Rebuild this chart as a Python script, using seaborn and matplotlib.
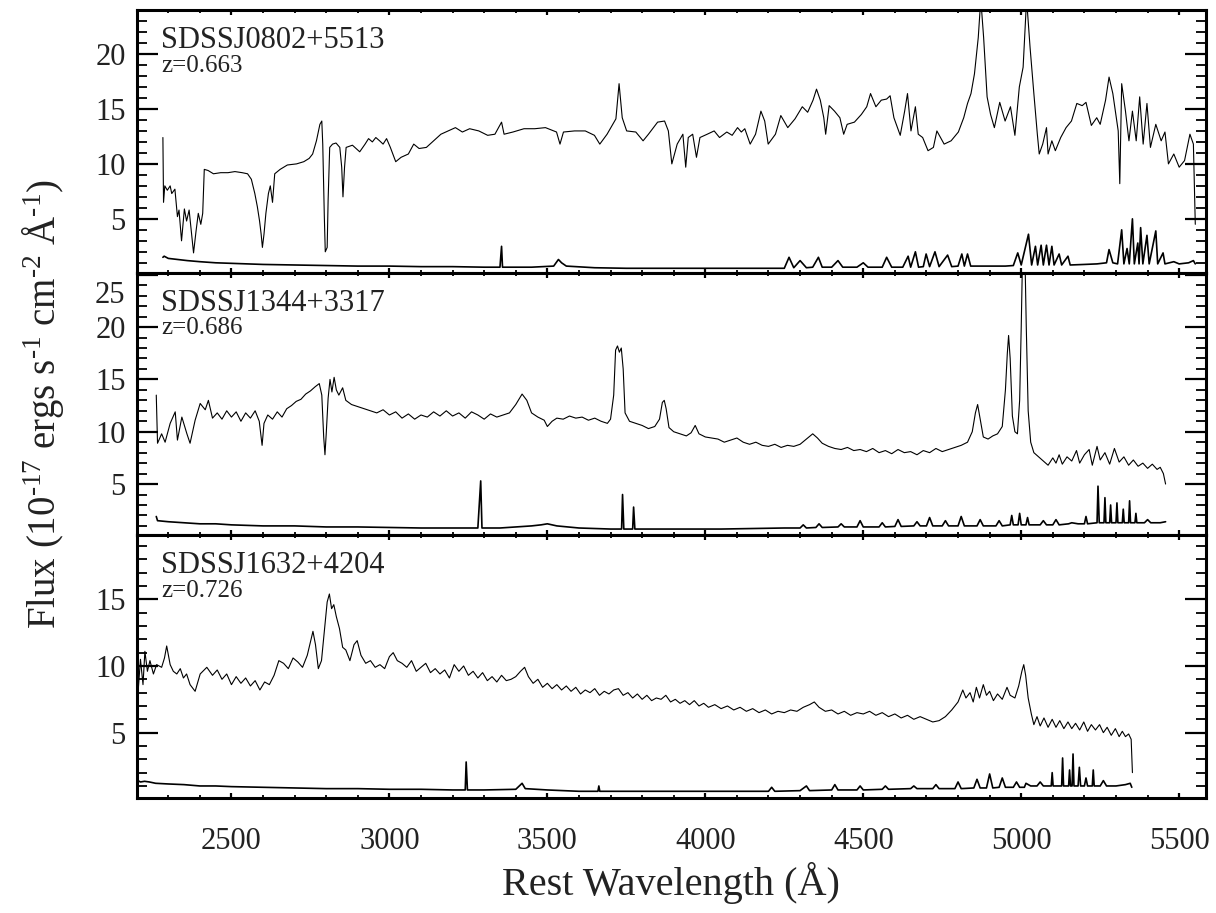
import numpy as np
import matplotlib
matplotlib.use("Agg")
import matplotlib.pyplot as plt
from matplotlib.ticker import MultipleLocator
from matplotlib.transforms import ScaledTranslation
import seaborn as sns

# ---- SDSSJ0802+5513 (z=0.663)
wave_0802 = [2283, 2285, 2289, 2297, 2306, 2311, 2321, 2329, 2334, 2342, 2351, 2358, 2366, 2374, 2380,
             2388, 2395, 2403, 2409, 2414, 2426, 2443, 2466, 2489, 2511, 2534, 2551, 2563, 2574, 2582,
             2589, 2594, 2598, 2603, 2609, 2617, 2623, 2630, 2637, 2654, 2677, 2706, 2729, 2746, 2757,
             2769, 2780, 2786, 2789, 2794, 2797, 2803, 2806, 2811, 2820, 2831, 2843, 2849, 2853, 2858,
             2863, 2883, 2906, 2923, 2934, 2946, 2957, 2969, 2980, 2991, 3003, 3020, 3037, 3060, 3077,
             3094, 3117, 3140, 3163, 3186, 3209, 3231, 3254, 3283, 3311, 3334, 3355, 3363, 3391, 3426,
             3460, 3494, 3529, 3540, 3551, 3586, 3620, 3649, 3666, 3689, 3717, 3727, 3737, 3751, 3780,
             3803, 3820, 3849, 3871, 3883, 3894, 3911, 3929, 3938, 3946, 3960, 3972, 3983, 4006, 4028,
             4045, 4068, 4085, 4102, 4114, 4125, 4142, 4159, 4176, 4188, 4199, 4222, 4239, 4261, 4284,
             4307, 4324, 4341, 4352, 4364, 4375, 4381, 4392, 4409, 4426, 4438, 4449, 4472, 4494, 4511,
             4523, 4540, 4557, 4574, 4585, 4597, 4617, 4631, 4640, 4651, 4665, 4674, 4688, 4705, 4722,
             4733, 4756, 4778, 4801, 4818, 4830, 4841, 4852, 4864, 4872, 4881, 4892, 4903, 4915, 4932,
             4949, 4966, 4980, 4994, 5006, 5017, 5028, 5040, 5051, 5057, 5068, 5080, 5085, 5097, 5108,
             5125, 5142, 5159, 5176, 5193, 5205, 5222, 5239, 5250, 5267, 5278, 5290, 5307, 5312, 5318,
             5330, 5341, 5352, 5364, 5375, 5386, 5398, 5409, 5426, 5443, 5455, 5466, 5483, 5500, 5517,
             5534, 5545, 5551]
flux_0802 = [12.4, 6.5, 8.0, 7.6, 8.0, 7.3, 7.7, 5.2, 5.8, 3.0, 5.9, 4.8, 5.8, 3.6, 1.9,
             3.9, 5.5, 4.5, 5.5, 9.5, 9.4, 9.1, 9.2, 9.2, 9.3, 9.2, 9.1, 8.6, 7.3, 6.1,
             4.8, 3.6, 2.4, 3.6, 5.5, 7.3, 8.0, 6.5, 9.1, 9.5, 9.9, 10.0, 10.2, 10.5, 10.9,
             12.1, 13.6, 13.9, 11.8, 5.2, 2.0, 2.4, 6.7, 11.5, 11.8, 11.9, 11.5, 9.7, 7.0, 9.7,
             11.5, 11.7, 11.1, 11.8, 12.3, 12.0, 12.4, 12.1, 11.8, 12.3, 11.5, 10.2, 10.6, 10.9, 11.8,
             11.4, 11.5, 12.1, 12.7, 13.0, 13.3, 12.9, 13.2, 13.0, 12.6, 12.7, 13.8, 12.7, 12.9, 13.2,
             13.2, 13.3, 12.9, 11.8, 12.9, 13.0, 13.0, 12.6, 11.8, 12.7, 14.1, 17.3, 14.2, 13.0, 12.9,
             12.1, 12.7, 13.8, 13.9, 13.0, 10.0, 11.8, 12.7, 9.7, 12.4, 12.7, 10.6, 12.4, 12.7, 13.0,
             12.4, 12.9, 12.6, 13.3, 12.9, 13.2, 11.8, 12.7, 14.8, 13.9, 11.8, 12.7, 14.4, 13.3, 14.1,
             15.2, 14.7, 15.8, 16.8, 15.8, 14.2, 12.7, 15.3, 14.8, 14.2, 12.7, 13.6, 13.8, 14.5, 15.2,
             16.4, 15.2, 15.8, 15.9, 16.2, 14.2, 12.6, 14.8, 16.4, 13.0, 15.2, 12.7, 12.4, 11.2, 11.5,
             13.0, 11.8, 12.1, 12.9, 14.2, 15.5, 16.4, 18.2, 21.5, 25.0, 21.5, 16.1, 14.5, 13.3, 15.6,
             13.9, 15.2, 12.6, 17.0, 18.8, 25.0, 20.6, 16.4, 12.7, 10.9, 11.8, 13.3, 10.9, 12.1, 11.2,
             12.4, 13.3, 13.9, 15.5, 15.3, 15.6, 13.5, 14.2, 13.6, 15.8, 17.9, 16.4, 13.0, 8.2, 17.3,
             14.8, 12.1, 14.8, 12.1, 16.1, 11.8, 15.5, 11.5, 13.6, 12.1, 12.9, 10.0, 10.9, 9.7, 10.3,
             12.7, 11.8, 4.5]
err_wave_0802 = [2283, 2287, 2300, 2330, 2360, 2400, 2450, 2500, 2600, 2700, 2800, 2900, 3000, 3100, 3200,
                 3300, 3350, 3355, 3358, 3450, 3520, 3535, 3545, 3560, 3650, 3750, 3850, 3950, 4050, 4150,
                 4250, 4265, 4280, 4300, 4320, 4340, 4358, 4370, 4400, 4420, 4435, 4480, 4500, 4515, 4560,
                 4574, 4590, 4625, 4642, 4650, 4665, 4675, 4690, 4699, 4710, 4727, 4740, 4767, 4780, 4800,
                 4812, 4820, 4830, 4840, 4900, 4950, 4975, 4989, 5000, 5023, 5033, 5045, 5052, 5063, 5070,
                 5080, 5088, 5097, 5104, 5120, 5128, 5148, 5155, 5200, 5240, 5270, 5278, 5290, 5305, 5318,
                 5325, 5335, 5342, 5352, 5358, 5369, 5373, 5378, 5385, 5398, 5405, 5426, 5432, 5449, 5455,
                 5483, 5500, 5530, 5545, 5551]
err_0802 = [1.5, 1.6, 1.4, 1.3, 1.2, 1.1, 1.0, 0.95, 0.85, 0.8, 0.75, 0.7, 0.7, 0.65, 0.65,
            0.6, 0.6, 2.5, 0.6, 0.6, 0.7, 1.3, 1.0, 0.7, 0.55, 0.5, 0.5, 0.5, 0.5, 0.5,
            0.5, 1.5, 0.55, 1.2, 0.55, 0.6, 1.5, 0.6, 0.6, 1.2, 0.6, 0.6, 1.0, 0.6, 0.6,
            1.5, 0.6, 0.6, 1.6, 0.6, 2.0, 0.6, 0.65, 1.8, 0.65, 2.0, 0.65, 1.7, 0.65, 0.7,
            1.8, 0.7, 1.8, 0.7, 0.7, 0.7, 0.75, 1.9, 0.8, 3.6, 0.8, 2.5, 0.8, 2.6, 0.8,
            2.6, 0.8, 2.5, 0.8, 1.8, 0.8, 1.6, 0.8, 0.85, 0.9, 1.0, 2.2, 1.0, 0.9, 4.0,
            0.9, 2.3, 0.9, 5.0, 0.9, 2.8, 0.9, 4.2, 0.9, 3.5, 0.9, 3.9, 0.9, 1.9, 0.9,
            1.1, 0.9, 1.0, 1.2, 0.9]

# ---- SDSSJ1344+3317 (z=0.686)
wave_1344 = [2262, 2266, 2279, 2290, 2306, 2322, 2329, 2343, 2359, 2369, 2385, 2401, 2417, 2427, 2440,
             2455, 2470, 2485, 2500, 2515, 2530, 2545, 2560, 2575, 2588, 2597, 2603, 2615, 2630, 2645,
             2660, 2675, 2690, 2705, 2720, 2735, 2750, 2765, 2778, 2786, 2792, 2796, 2800, 2806, 2812,
             2818, 2825, 2832, 2840, 2852, 2862, 2880, 2900, 2920, 2940, 2960, 2980, 3000, 3020, 3040,
             3060, 3080, 3100, 3120, 3140, 3160, 3180, 3200, 3220, 3240, 3260, 3280, 3300, 3320, 3340,
             3360, 3380, 3400, 3420, 3435, 3450, 3470, 3490, 3500, 3515, 3530, 3550, 3570, 3590, 3610,
             3630, 3650, 3670, 3690, 3700, 3710, 3716, 3722, 3728, 3734, 3740, 3746, 3760, 3780, 3800,
             3820, 3840, 3855, 3864, 3870, 3876, 3885, 3900, 3920, 3940, 3955, 3968, 3980, 4000, 4020,
             4040, 4060, 4080, 4100, 4120, 4140, 4160, 4180, 4200, 4220, 4240, 4260, 4280, 4300, 4320,
             4340, 4355, 4370, 4390, 4410, 4430, 4450, 4470, 4490, 4510, 4530, 4550, 4570, 4590, 4610,
             4630, 4650, 4670, 4690, 4710, 4730, 4750, 4770, 4790, 4810, 4830, 4845, 4855, 4862, 4870,
             4880, 4895, 4910, 4925, 4940, 4950, 4956, 4960, 4965, 4972, 4980, 4988, 4995, 5000, 5004,
             5012, 5016, 5022, 5030, 5040, 5055, 5070, 5085, 5100, 5110, 5120, 5130, 5145, 5160, 5175,
             5185, 5200, 5215, 5225, 5240, 5250, 5265, 5280, 5295, 5310, 5325, 5340, 5355, 5370, 5385,
             5400, 5415, 5430, 5440, 5450, 5457]
flux_1344 = [13.5, 8.9, 9.8, 9.0, 10.8, 11.9, 9.2, 11.4, 9.8, 8.9, 11.1, 12.7, 12.1, 13.0, 11.3,
             11.8, 11.2, 12.0, 11.4, 11.9, 11.0, 11.8, 11.3, 12.0, 11.0, 8.7, 10.8, 11.6, 11.2, 11.9,
             11.4, 12.2, 12.5, 12.9, 13.1, 13.6, 13.9, 14.3, 14.6, 13.5, 9.5, 7.8, 9.8, 13.2, 15.0,
             13.8, 15.2, 14.0, 13.5, 14.2, 13.0, 12.6, 12.4, 12.2, 12.0, 11.8, 12.1, 11.6, 11.9, 11.3,
             11.7, 11.2, 11.6, 11.4, 11.9, 11.5, 12.0, 11.5, 11.8, 11.3, 11.9, 11.6, 11.2, 11.7, 11.4,
             11.6, 11.8, 12.6, 13.6, 13.0, 11.8, 11.4, 11.1, 10.5, 11.0, 11.3, 11.2, 11.5, 11.3, 11.4,
             11.1, 11.3, 11.0, 10.8, 11.2, 13.5, 17.8, 18.2, 17.6, 18.0, 16.0, 11.8, 11.0, 10.8, 10.6,
             10.3, 10.5, 11.2, 12.8, 13.0, 12.2, 10.4, 10.0, 9.8, 9.6, 9.9, 10.6, 9.8, 9.5, 9.4,
             9.3, 9.0, 9.2, 9.4, 9.0, 8.8, 9.0, 8.7, 8.6, 8.8, 8.5, 8.7, 8.6, 8.8, 9.3,
             9.8, 9.4, 8.9, 8.6, 8.4, 8.3, 8.5, 8.2, 8.3, 8.1, 8.4, 8.0, 8.2, 7.9, 8.3,
             8.0, 8.1, 7.8, 8.2, 8.0, 8.4, 8.1, 8.3, 8.5, 8.7, 9.0, 10.0, 11.8, 12.6, 11.2,
             9.5, 9.3, 9.6, 9.8, 10.5, 14.0, 17.5, 19.2, 17.0, 11.5, 10.0, 9.8, 13.0, 20.0, 26.5,
             26.5, 20.0, 12.0, 9.0, 8.0, 7.6, 7.2, 6.8, 7.5, 7.0, 7.8, 6.9, 7.6, 7.2, 8.2,
             7.0, 7.8, 8.3, 6.8, 8.6, 7.3, 8.0, 6.9, 8.4, 7.1, 7.6, 6.8, 7.3, 6.7, 7.0,
             6.5, 6.9, 6.4, 6.6, 6.0, 5.0]
err_wave_1344 = [2262, 2266, 2300, 2350, 2400, 2450, 2500, 2600, 2700, 2800, 2900, 3000, 3100, 3200, 3280,
                 3289, 3293, 3350, 3400, 3450, 3480, 3500, 3530, 3600, 3700, 3735, 3738, 3742, 3770, 3773,
                 3777, 3850, 3950, 4050, 4150, 4250, 4300, 4310, 4320, 4350, 4360, 4370, 4420, 4430, 4440,
                 4480, 4490, 4500, 4550, 4560, 4570, 4600, 4610, 4620, 4660, 4670, 4680, 4700, 4710, 4720,
                 4750, 4760, 4770, 4800, 4810, 4820, 4860, 4870, 4880, 4920, 4930, 4940, 4965, 4970, 4975,
                 4990, 4995, 5000, 5015, 5020, 5025, 5060, 5070, 5080, 5100, 5110, 5120, 5150, 5160, 5180,
                 5200, 5205, 5210, 5240, 5243, 5247, 5262, 5265, 5268, 5280, 5283, 5286, 5300, 5303, 5306,
                 5320, 5323, 5326, 5340, 5343, 5346, 5360, 5363, 5366, 5390, 5400, 5410, 5440, 5457]
err_1344 = [1.9, 1.5, 1.4, 1.3, 1.2, 1.2, 1.1, 1.0, 1.0, 0.9, 0.9, 0.85, 0.8, 0.8, 0.8,
            5.3, 0.8, 0.8, 0.9, 1.0, 1.1, 1.2, 1.0, 0.8, 0.7, 0.7, 4.0, 0.7, 0.7, 2.8,
            0.7, 0.7, 0.7, 0.7, 0.75, 0.8, 0.8, 1.1, 0.8, 0.85, 1.2, 0.85, 0.9, 1.2, 0.9,
            0.9, 1.5, 0.9, 0.9, 1.3, 0.9, 0.95, 1.6, 0.95, 1.0, 1.4, 1.0, 1.0, 1.8, 1.0,
            1.0, 1.5, 1.0, 1.0, 1.9, 1.0, 1.0, 1.6, 1.0, 1.0, 1.5, 1.0, 1.1, 2.0, 1.1,
            1.1, 2.2, 1.1, 1.1, 1.8, 1.1, 1.1, 1.5, 1.1, 1.1, 1.6, 1.1, 1.2, 1.3, 1.2,
            1.2, 1.9, 1.2, 1.3, 4.8, 1.3, 1.3, 3.7, 1.3, 1.3, 3.0, 1.3, 1.3, 3.2, 1.3,
            1.3, 2.6, 1.3, 1.3, 3.4, 1.3, 1.3, 2.2, 1.3, 1.3, 1.6, 1.3, 1.3, 1.4]

# ---- SDSSJ1632+4204 (z=0.726)
wave_1632 = [2202, 2204, 2212, 2220, 2226, 2234, 2242, 2253, 2263, 2279, 2288, 2295, 2306, 2316, 2327,
             2338, 2348, 2358, 2369, 2385, 2401, 2422, 2440, 2455, 2470, 2485, 2500, 2515, 2530, 2545,
             2560, 2575, 2590, 2605, 2620, 2635, 2650, 2665, 2680, 2695, 2710, 2725, 2740, 2750, 2758,
             2766, 2775, 2785, 2795, 2803, 2810, 2817, 2824, 2832, 2842, 2852, 2862, 2875, 2888, 2898,
             2910, 2925, 2940, 2955, 2970, 2985, 3000, 3012, 3025, 3040, 3055, 3070, 3085, 3100, 3115,
             3130, 3145, 3160, 3175, 3190, 3205, 3220, 3235, 3250, 3265, 3280, 3295, 3310, 3325, 3340,
             3355, 3370, 3385, 3400, 3415, 3428, 3440, 3455, 3470, 3485, 3500, 3515, 3530, 3545, 3560,
             3575, 3590, 3605, 3620, 3635, 3650, 3665, 3680, 3695, 3710, 3725, 3740, 3755, 3770, 3785,
             3800, 3815, 3830, 3845, 3860, 3875, 3890, 3905, 3920, 3935, 3950, 3965, 3980, 3995, 4010,
             4030, 4050, 4070, 4090, 4110, 4130, 4150, 4170, 4190, 4210, 4230, 4250, 4270, 4290, 4310,
             4330, 4345, 4360, 4380, 4400, 4420, 4440, 4460, 4480, 4500, 4520, 4540, 4560, 4580, 4600,
             4620, 4640, 4660, 4680, 4700, 4720, 4740, 4760, 4780, 4800, 4815, 4825, 4838, 4848, 4858,
             4868, 4880, 4890, 4900, 4912, 4925, 4940, 4955, 4965, 4980, 4992, 5002, 5008, 5014, 5022,
             5032, 5040, 5050, 5060, 5072, 5085, 5098, 5110, 5122, 5135, 5148, 5160, 5172, 5185, 5198,
             5210, 5222, 5235, 5248, 5260, 5272, 5285, 5298, 5310, 5320, 5330, 5340, 5348, 5352]
flux_1632 = [13.6, 7.9, 10.5, 8.6, 11.1, 9.6, 10.4, 9.4, 10.1, 9.9, 10.6, 11.5, 10.1, 9.6, 9.4,
             9.8, 9.1, 9.4, 8.6, 8.1, 9.4, 9.9, 9.3, 9.7, 9.0, 9.4, 8.6, 9.2, 8.7, 9.1,
             8.5, 8.9, 8.2, 8.8, 8.6, 9.3, 10.4, 10.2, 9.8, 10.6, 10.3, 9.9, 10.8, 11.8, 12.6,
             11.6, 9.8, 10.4, 12.8, 14.8, 15.4, 14.3, 14.6, 13.7, 12.8, 11.4, 11.2, 10.4, 11.6, 11.9,
             10.8, 10.2, 10.4, 9.9, 10.1, 9.8, 10.7, 11.0, 10.4, 10.2, 9.9, 10.4, 9.6, 9.9, 10.2,
             9.5, 9.8, 9.4, 9.7, 9.1, 10.1, 9.6, 10.0, 9.3, 9.6, 9.1, 9.5, 8.9, 9.2, 8.8,
             9.3, 8.9, 9.0, 9.2, 9.6, 9.9, 9.2, 8.7, 9.0, 8.4, 8.7, 8.3, 8.6, 8.2, 8.5,
             8.1, 8.4, 7.9, 8.2, 8.0, 8.3, 7.8, 8.1, 7.9, 8.2, 8.3, 7.8, 8.0, 7.6, 7.9,
             7.5, 7.8, 7.4, 7.6, 7.5, 7.8, 7.3, 7.5, 7.2, 7.4, 7.1, 7.4, 7.0, 7.2, 6.9,
             7.1, 6.8, 7.0, 6.7, 6.9, 6.6, 6.8, 6.5, 6.7, 6.4, 6.6, 6.5, 6.7, 6.6, 6.9,
             7.1, 7.3, 6.9, 6.6, 6.7, 6.4, 6.6, 6.3, 6.5, 6.4, 6.6, 6.3, 6.5, 6.2, 6.4,
             6.1, 6.3, 6.0, 6.2, 6.0, 5.8, 5.9, 6.2, 6.7, 7.3, 8.2, 7.6, 8.0, 7.3, 8.4,
             7.6, 8.6, 7.8, 8.1, 7.4, 7.9, 7.5, 8.4, 7.8, 7.6, 8.5, 9.6, 10.1, 9.3, 7.6,
             6.4, 5.6, 6.2, 5.5, 6.1, 5.4, 6.0, 5.4, 5.9, 5.3, 5.8, 5.3, 5.7, 5.2, 5.8,
             5.1, 5.6, 5.2, 5.6, 5.0, 5.4, 4.8, 5.3, 4.7, 5.1, 4.7, 4.9, 4.5, 2.0]
err_wave_1632 = [2202, 2204, 2212, 2225, 2240, 2260, 2300, 2350, 2400, 2450, 2500, 2600, 2700, 2800, 2900,
                 3000, 3100, 3200, 3240, 3243, 3247, 3300, 3400, 3420, 3430, 3500, 3600, 3660, 3663, 3666,
                 3750, 3850, 3950, 4050, 4150, 4200, 4210, 4220, 4300, 4320, 4330, 4400, 4410, 4420, 4480,
                 4490, 4500, 4560, 4570, 4580, 4650, 4660, 4670, 4720, 4730, 4740, 4790, 4800, 4810, 4850,
                 4860, 4870, 4890, 4900, 4910, 4930, 4940, 4950, 4975, 4985, 4995, 5010, 5015, 5030, 5050,
                 5060, 5070, 5095, 5098, 5101, 5128, 5131, 5134, 5150, 5153, 5156, 5161, 5164, 5167, 5180,
                 5184, 5188, 5200, 5205, 5210, 5225, 5228, 5231, 5250, 5260, 5270, 5300, 5330, 5345, 5350]
err_1632 = [1.0, 1.4, 1.3, 1.35, 1.3, 1.2, 1.15, 1.1, 1.0, 1.0, 0.95, 0.9, 0.85, 0.8, 0.8,
            0.75, 0.75, 0.7, 0.7, 2.8, 0.7, 0.7, 0.75, 1.2, 0.8, 0.7, 0.6, 0.6, 1.0, 0.6,
            0.6, 0.6, 0.6, 0.6, 0.6, 0.6, 0.9, 0.6, 0.65, 1.0, 0.65, 0.7, 1.1, 0.7, 0.7,
            1.0, 0.7, 0.75, 1.0, 0.75, 0.8, 1.0, 0.8, 0.8, 1.1, 0.8, 0.8, 1.3, 0.8, 0.85,
            1.5, 0.85, 0.85, 1.9, 0.85, 0.9, 1.6, 0.9, 0.9, 1.3, 0.9, 0.9, 1.2, 1.0, 1.0,
            1.3, 1.0, 1.0, 2.0, 1.0, 1.0, 3.1, 1.0, 1.0, 2.2, 1.0, 1.0, 3.4, 1.0, 1.0,
            2.4, 1.0, 1.0, 1.6, 1.0, 1.0, 2.2, 1.0, 1.0, 1.4, 1.0, 1.0, 1.1, 1.2, 0.9]

names = ["SDSSJ0802+5513", "SDSSJ1344+3317", "SDSSJ1632+4204"]
zlabels = ["z=0.663", "z=0.686", "z=0.726"]

spectra = [(wave_0802, flux_0802, err_wave_0802, err_0802),
           (wave_1344, flux_1344, err_wave_1344, err_1344),
           (wave_1632, flux_1632, err_wave_1632, err_1632)]
ylims = [(0.1, 24.0), (0.1, 25.2), (0.1, 19.8)]
yticks = [[5, 10, 15, 20], [5, 10, 15, 20, 25], [5, 10, 15]]

sns.set_theme(style="ticks")
plt.rcParams['font.family'] = ['Liberation Serif', 'DejaVu Serif']
plt.rcParams['mathtext.fontset'] = 'custom'
plt.rcParams['mathtext.rm'] = 'Liberation Serif'
plt.rcParams['mathtext.it'] = 'Liberation Serif:italic'

fig, axes = plt.subplots(3, 1, figsize=(12.16, 9.13), dpi=100, sharex=True,
                         gridspec_kw={'hspace': 0})
fig.subplots_adjust(left=0.1124, right=0.9918, top=0.989, bottom=0.126)

for i, ax in enumerate(axes):
    w, f, ew, e = spectra[i]
    sns.lineplot(x=w, y=f, ax=ax, color='black', lw=0.8, estimator=None, sort=False)
    sns.lineplot(x=ew, y=e, ax=ax, color='black', lw=1.2, estimator=None, sort=False)
    ax.set_xlim(2200, 5585)
    ax.set_ylim(*ylims[i])
    ax.set_ylabel('')
    ax.xaxis.set_major_locator(MultipleLocator(500))
    ax.xaxis.set_minor_locator(MultipleLocator(100))
    ax.set_yticks(yticks[i])
    ax.yaxis.set_minor_locator(MultipleLocator(1))
    ax.tick_params(which='both', direction='in', top=True, right=True, colors='black')
    ax.tick_params(axis='y', which='major', length=15, width=1.6, labelsize=22, pad=8,
                   labelcolor='#222222')
    ax.tick_params(axis='y', which='minor', length=7.5, width=1.3)
    ax.tick_params(axis='x', which='major', length=3.8, width=1.6, labelsize=22, pad=21,
                   labelcolor='#222222')
    ax.tick_params(axis='x', which='minor', length=1.9, width=1.3)
    for s in ax.spines.values():
        s.set_linewidth(2.2)
        s.set_color('black')
    ax.text(0.023, 0.855, names[i], transform=ax.transAxes, fontsize=22,
            ha='left', va='baseline', color='#222222')
    ax.text(0.023, 0.765, zlabels[i], transform=ax.transAxes, fontsize=18,
            ha='left', va='baseline', color='#222222')

# the top "25" label of the middle panel sits a little below its tick
lbl25 = axes[1].get_yticklabels()[-1]
lbl25.set_transform(lbl25.get_transform() + ScaledTranslation(0, -0.17, fig.dpi_scale_trans))

fig.text(0.5521, 0.020, 'Rest Wavelength (Å)', fontsize=29, ha='center', va='baseline',
         color='#222222')
fig.text(0.035, (0.989 + 0.126) / 2,
         'Flux (10$^{\u201017}$ ergs s$^{\u20101}$ cm$^{\u20102}$ Å$^{\u20101}$)',
         rotation=90, ha='center', va='center', fontsize=28, color='#222222')

fig.savefig('out.png', dpi=100)
plt.close('all')
